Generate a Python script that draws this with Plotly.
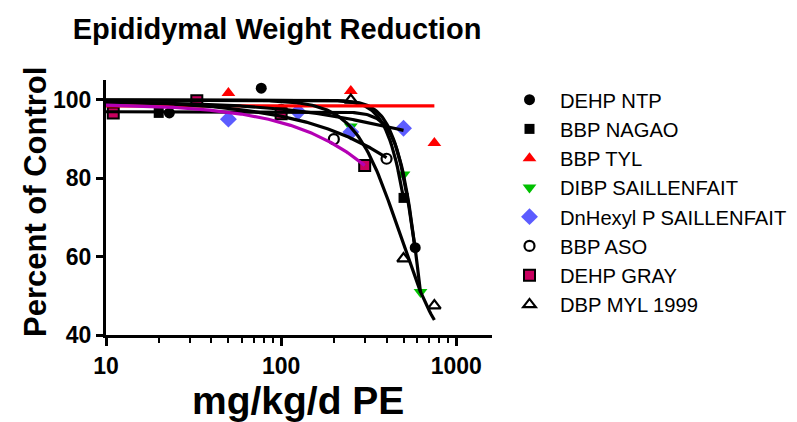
import numpy as np
import plotly.graph_objects as go

FONT = "Arial, Liberation Sans, sans-serif"

# ---- data points (dose mg/kg/d, percent of control) ----
series_names = ["DEHP NTP", "BBP NAGAO", "BBP TYL", "DIBP SAILLENFAIT",
                "DnHexyl P SAILLENFAIT", "BBP ASO", "DEHP GRAY", "DBP MYL 1999"]

dehp_ntp_x = [23, 77, 583]
dehp_ntp_y = [96.7, 103.0, 62.3]
bbp_nagao_x = [20, 100, 500]
bbp_nagao_y = [96.7, 97.0, 75.0]
bbp_tyl_x = [50, 250, 750]
bbp_tyl_y = [101.8, 102.3, 89.0]
dibp_x = [125, 250, 500, 625]
dibp_y = [96.3, 93.2, 81.0, 51.0]
dnhexyl_x = [50, 125, 250, 500]
dnhexyl_y = [95.1, 97.0, 91.8, 92.8]
bbp_aso_x = [100, 200, 400]
bbp_aso_y = [97.5, 90.0, 85.0]
dehp_gray_x = [11, 33, 100, 300]
dehp_gray_y = [96.7, 99.8, 96.5, 83.3]
dbp_myl_x = [250, 500, 750]
dbp_myl_y = [100.0, 59.5, 47.5]

# ---- fitted dose-response parameters: top, bottom, EC50, hill slope, max dose ----
fit_top = [100, 100, 98.5, 97, 99.5, 100, 99, 100]
fit_bottom = [0, 0, 98.5, 0, 85, 0, 0, 32]
fit_ec50 = [632, 600, 500, 634, 500, 2318, 1205, 474]
fit_hill = [6, 6, 1, 6.8, 1.2, 1, 1.2, 3.4]
fit_xmax = [583, 500, 750, 625, 500, 400, 300, 750]

xs_all = [dehp_ntp_x, bbp_nagao_x, bbp_tyl_x, dibp_x, dnhexyl_x, bbp_aso_x, dehp_gray_x, dbp_myl_x]
ys_all = [dehp_ntp_y, bbp_nagao_y, bbp_tyl_y, dibp_y, dnhexyl_y, bbp_aso_y, dehp_gray_y, dbp_myl_y]

# ---- styles ----
symbols = ["circle", "square", "triangle-up", "triangle-down", "diamond",
           "circle-open", "square", "triangle-up-open"]
mcolors = ["black", "black", "#FF0000", "#00C000", "#5C5CFF", "black", "#C8005F", "black"]
mline_w = [0, 0, 0, 0, 0, 2.2, 2, 2.2]
msize = [11, 10, 12, 12, 13, 10, 11, 11]
curve_colors = ["black", "black", "#FF0000", "black", "black", "black", "#B400B4", "black"]

fig = go.Figure()

for i, name in enumerate(series_names):
    fig.add_trace(go.Scatter(
        x=xs_all[i], y=ys_all[i], mode="markers", name=name,
        legendgroup=name, showlegend=True,
        marker=dict(symbol=symbols[i], size=msize[i], color=mcolors[i],
                    line=dict(color="black", width=mline_w[i])),
    ))

for i, name in enumerate(series_names):
    xc = np.logspace(1, np.log10(fit_xmax[i]), 200)
    yc = fit_bottom[i] + (fit_top[i] - fit_bottom[i]) / (1 + (xc / fit_ec50[i]) ** fit_hill[i])
    fig.add_trace(go.Scatter(
        x=xc, y=yc, mode="lines", showlegend=False, hoverinfo="skip",
        line=dict(color=curve_colors[i], width=3.2),
    ))

x_major = [10, 100, 1000]
x_major_text = ["10", "100", "1000"]
x_minor = [20, 30, 40, 50, 60, 70, 80, 90, 200, 300, 400, 500, 600, 700, 800, 900]
y_ticks = [40, 60, 80, 100]

fig.update_layout(
    width=797, height=422,
    margin=dict(l=106, r=305, t=80, b=87, autoexpand=False),
    paper_bgcolor="white", plot_bgcolor="white",
    font=dict(family=FONT, color="black"),
    title=dict(text="Epididymal Weight Reduction", x=277 / 797, xanchor="center",
               xref="container", y=1 - 29 / 422, yanchor="middle", yref="container",
               font=dict(size=29, weight="bold", family=FONT, color="black")),
    xaxis=dict(type="log", range=[1, np.log10(1600)], showline=True, linewidth=3,
               linecolor="black", ticks="outside", ticklen=8, tickwidth=3,
               tickcolor="black", tickvals=x_major, ticktext=x_major_text,
               tickfont=dict(size=23, weight="bold", family=FONT),
               minor=dict(tickvals=x_minor, ticks="outside", ticklen=5, tickwidth=2,
                          tickcolor="black"),
               showgrid=False, zeroline=False, automargin=False),
    yaxis=dict(range=[40, 105.1], showline=True, linewidth=3, linecolor="black",
               ticks="outside", ticklen=7, tickwidth=3, tickcolor="black",
               tickvals=y_ticks, tickfont=dict(size=23, weight="bold", family=FONT),
               showgrid=False, zeroline=False, automargin=False),
    legend=dict(x=499 / 797, xref="container", xanchor="left",
                y=1 - 80 / 422, yref="container", yanchor="top",
                maxheight=330, font=dict(size=20.2, family=FONT), tracegroupgap=0,
                itemwidth=51, bgcolor="rgba(0,0,0,0)"),
    annotations=[
        dict(text="mg/kg/d PE", xref="paper", yref="paper",
             x=(298 - 106) / 386, y=(335 - 400) / 255, xanchor="center", yanchor="middle",
             showarrow=False, font=dict(size=39, weight="bold", family=FONT)),
        dict(text="Percent of Control", xref="paper", yref="paper",
             x=(35 - 106) / 386, y=(335 - 202) / 255, xanchor="center", yanchor="middle",
             textangle=-90, showarrow=False,
             font=dict(size=31, weight="bold", family=FONT)),
    ],
)

fig.write_html("out.html")
